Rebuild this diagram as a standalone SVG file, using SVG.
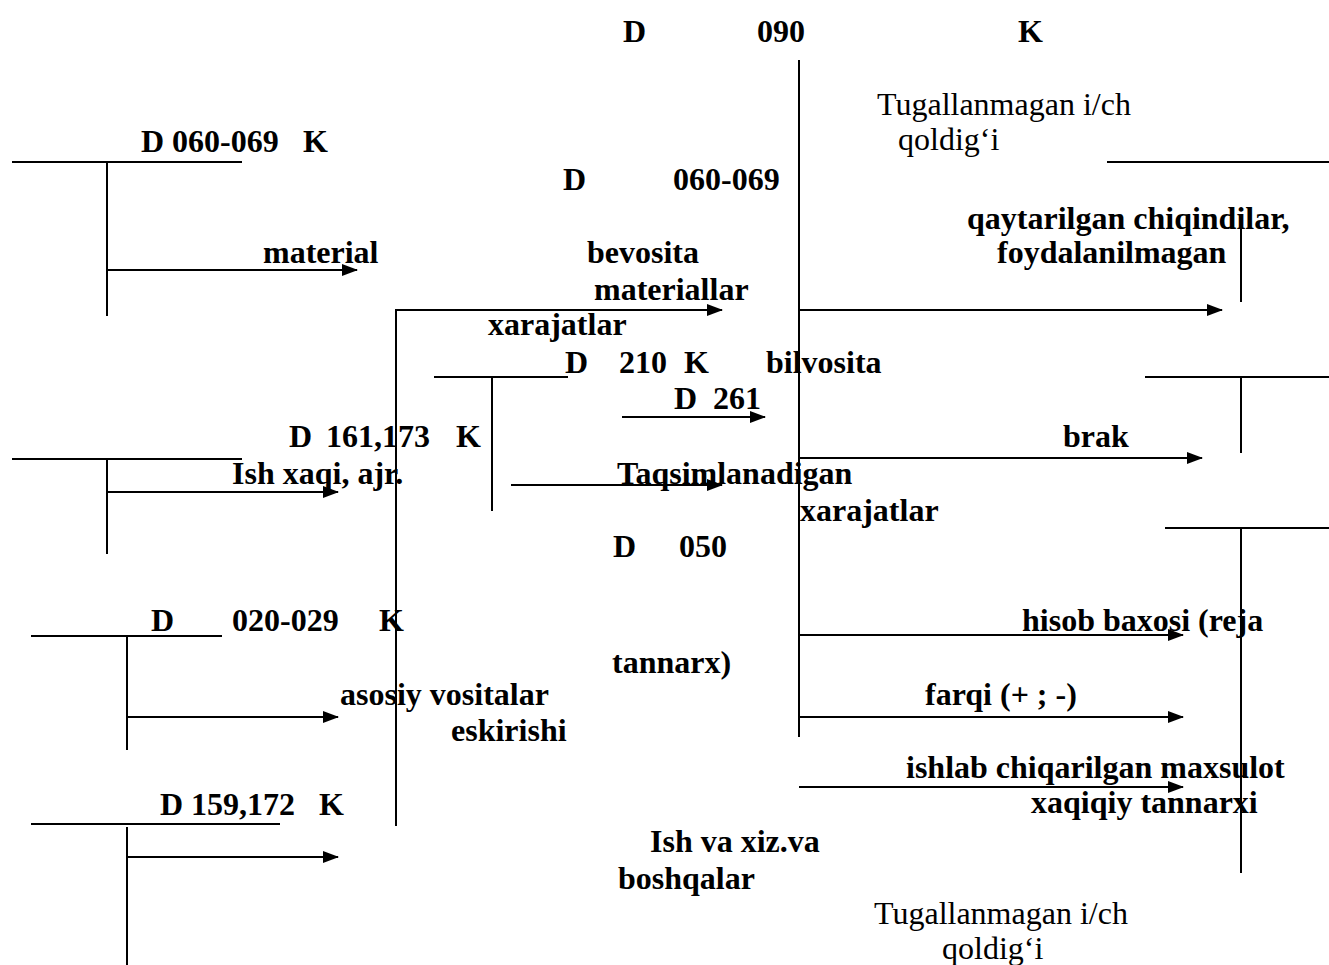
<svg xmlns="http://www.w3.org/2000/svg" width="1329" height="965" viewBox="0 0 1329 965">
<style>
.b{font-family:"Liberation Serif","Times New Roman",serif;font-weight:bold;font-size:32px;fill:#000}
.r{font-family:"Liberation Serif","Times New Roman",serif;font-size:32px;fill:#000}
.l{stroke:#000;stroke-width:2;fill:none}
.a{stroke:#000;stroke-width:2;fill:none;marker-end:url(#ah)}
</style>
<defs>
<marker id="ah" markerWidth="16" markerHeight="12" refX="15" refY="6" orient="auto" markerUnits="userSpaceOnUse">
<path d="M0,0 L16,6 L0,12 Z" fill="#000"/>
</marker>
</defs>
<rect width="1329" height="965" fill="#fff"/>

<g id="acc090">
<line class="l" x1="799" y1="60" x2="799" y2="737"/>
<text class="b" x="623" y="42">D</text>
<text class="b" x="757" y="42">090</text>
<text class="b" x="1018" y="42">K</text>
<text class="r" x="877" y="115">Tugallanmagan i/ch</text>
<text class="r" x="898" y="150">qoldig‘i</text>
<text class="r" x="874" y="924">Tugallanmagan i/ch</text>
<text class="r" x="942" y="959">qoldig‘i</text>
</g>

<g id="acc060-left">
<line class="l" x1="12" y1="162" x2="242" y2="162"/>
<line class="l" x1="107" y1="162" x2="107" y2="316"/>
<text class="b" x="141" y="152">D 060-069</text>
<text class="b" x="303" y="152">K</text>
</g>

<g id="acc161">
<line class="l" x1="12" y1="459" x2="242" y2="459"/>
<line class="l" x1="107" y1="459" x2="107" y2="554"/>
<text class="b" x="289" y="447">D</text>
<text class="b" x="326" y="447">161,173</text>
<text class="b" x="456" y="447">K</text>
</g>

<g id="acc020">
<line class="l" x1="31" y1="636" x2="222" y2="636"/>
<line class="l" x1="127" y1="636" x2="127" y2="750"/>
<text class="b" x="151" y="631">D</text>
<text class="b" x="232" y="631">020-029</text>
<text class="b" x="379" y="631">K</text>
</g>

<g id="acc159">
<line class="l" x1="31" y1="824" x2="280" y2="824"/>
<line class="l" x1="127" y1="827" x2="127" y2="965"/>
<text class="b" x="160" y="815">D 159,172</text>
<text class="b" x="319" y="815">K</text>
</g>

<g id="acc210">
<line class="l" x1="434" y1="377" x2="568" y2="377"/>
<line class="l" x1="492" y1="377" x2="492" y2="511"/>
<text class="b" x="565" y="373">D</text>
<text class="b" x="619" y="373">210</text>
<text class="b" x="684" y="373">K</text>
</g>

<g id="acc-right-top">
<line class="l" x1="1107" y1="162" x2="1329" y2="162"/>
<line class="l" x1="1241" y1="222" x2="1241" y2="302"/>
</g>

<g id="acc-right-mid">
<line class="l" x1="1145" y1="377" x2="1329" y2="377"/>
<line class="l" x1="1241" y1="377" x2="1241" y2="453"/>
</g>

<g id="acc-right-bottom">
<line class="l" x1="1165" y1="528" x2="1329" y2="528"/>
<line class="l" x1="1241" y1="528" x2="1241" y2="873"/>
</g>

<g id="connectors">
<line class="a" x1="107" y1="270" x2="357" y2="270"/>
<line class="a" x1="107" y1="492" x2="338" y2="492"/>
<line class="a" x1="127" y1="717" x2="338" y2="717"/>
<line class="a" x1="127" y1="857" x2="338" y2="857"/>
<polyline class="a" points="396,826 396,310 722,310"/>
<line class="a" x1="511" y1="485" x2="722" y2="485"/>
<line class="a" x1="622" y1="417" x2="765" y2="417"/>
<line class="a" x1="799" y1="310" x2="1222" y2="310"/>
<line class="a" x1="799" y1="458" x2="1202" y2="458"/>
<line class="a" x1="799" y1="635" x2="1183" y2="635"/>
<line class="a" x1="799" y1="717" x2="1183" y2="717"/>
<line class="a" x1="799" y1="787" x2="1183" y2="787"/>
</g>

<g id="labels">
<text class="b" x="563" y="190">D</text>
<text class="b" x="673" y="190">060-069</text>
<text class="b" x="967" y="229">qaytarilgan chiqindilar,</text>
<text class="b" x="997" y="263">foydalanilmagan</text>
<text class="b" x="263" y="263">material</text>
<text class="b" x="587" y="263">bevosita</text>
<text class="b" x="594" y="300">materiallar</text>
<text class="b" x="488" y="335">xarajatlar</text>
<text class="b" x="766" y="373">bilvosita</text>
<text class="b" x="674" y="409">D</text>
<text class="b" x="713" y="409">261</text>
<text class="b" x="1063" y="447">brak</text>
<text class="b" x="232" y="484">Ish xaqi, ajr.</text>
<text class="b" x="617" y="484">Taqsimlanadigan</text>
<text class="b" x="800" y="521">xarajatlar</text>
<text class="b" x="613" y="557">D</text>
<text class="b" x="679" y="557">050</text>
<text class="b" x="1022" y="631">hisob baxosi (reja</text>
<text class="b" x="612" y="673">tannarx)</text>
<text class="b" x="340" y="705">asosiy vositalar</text>
<text class="b" x="451" y="741">eskirishi</text>
<text class="b" x="925" y="705">farqi (+ ; -)</text>
<text class="b" x="906" y="778">ishlab chiqarilgan maxsulot</text>
<text class="b" x="1031" y="813">xaqiqiy tannarxi</text>
<text class="b" x="650" y="852">Ish va xiz.va</text>
<text class="b" x="618" y="889">boshqalar</text>
</g>
</svg>
